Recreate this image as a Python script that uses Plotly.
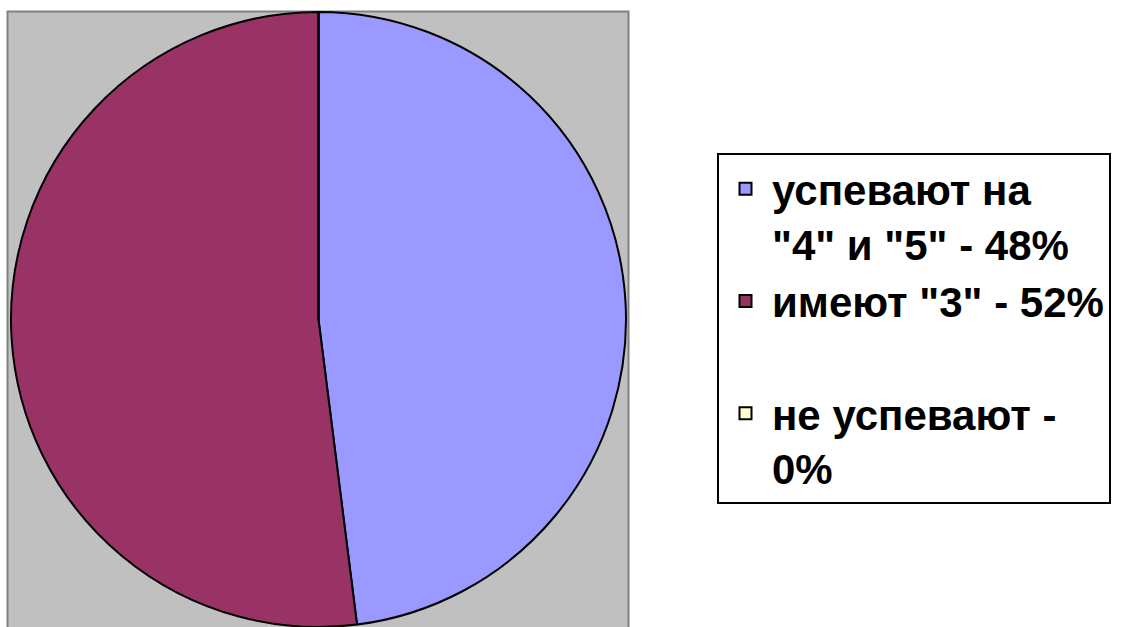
import plotly.graph_objects as go

# Data
categories = ['успевают на<br>"4" и "5" - 48%', 'имеют "3" - 52%<br> ', 'не успевают -<br>0%']
values = [48, 52, 0]
colors = ["#9999FF", "#993366", "#FFFFCC"]

W, H = 1122, 627

fig = go.Figure(
    go.Pie(
        labels=categories,
        values=values,
        sort=False,
        direction="clockwise",
        rotation=0,
        textinfo="none",
        hoverinfo="label+percent",
        marker=dict(colors=colors, line=dict(color="black", width=2)),
        domain=dict(x=[8 / W, 629 / W], y=[0, 1 - 12 / H]),
    )
)

fig.add_shape(
    type="rect", xref="paper", yref="paper",
    x0=7.5 / W, x1=628.5 / W, y0=-0.05, y1=1 - 11.5 / H,
    fillcolor="#C0C0C0", line=dict(color="#808080", width=2), layer="below",
)

fig.update_layout(
    width=W, height=H,
    margin=dict(l=0, r=0, t=0, b=0),
    paper_bgcolor="white",
    plot_bgcolor="white",
    showlegend=True,
    legend=dict(
        x=717 / W, xanchor="left",
        y=1 - 153 / H, yanchor="top",
        bgcolor="white", bordercolor="black", borderwidth=2,
        font=dict(family="Liberation Sans, Arial, sans-serif", size=42, color="black", weight="bold"),
        valign="top",
        itemwidth=43,
        traceorder="normal",
    ),
)

fig.write_html(
    "out.html",
    config={"displayModeBar": False},
    post_script="document.body.style.margin='0';",
)
